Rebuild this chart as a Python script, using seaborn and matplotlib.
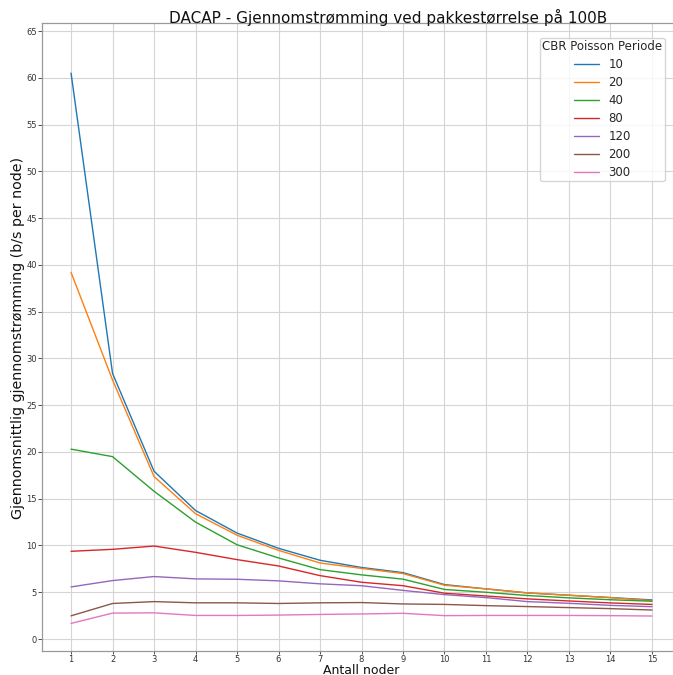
import matplotlib
matplotlib.use("Agg")
import matplotlib.pyplot as plt
import seaborn as sns
import pandas as pd

nodes = list(range(1, 16))
periods = ["10", "20", "40", "80", "120", "200", "300"]
p10 = [60.5, 28.4, 17.94, 13.74, 11.33, 9.70, 8.42, 7.65, 7.10, 5.82, 5.36, 4.93, 4.68, 4.43, 4.18]
p20 = [39.2, 27.7, 17.37, 13.40, 11.10, 9.48, 8.13, 7.55, 7.00, 5.75, 5.36, 4.93, 4.68, 4.43, 4.10]
p40 = [20.3, 19.5, 15.80, 12.50, 10.08, 8.67, 7.42, 6.86, 6.40, 5.30, 5.00, 4.65, 4.40, 4.20, 4.04]
p80 = [9.38, 9.59, 9.94, 9.27, 8.49, 7.81, 6.78, 6.07, 5.70, 4.90, 4.60, 4.29, 4.07, 3.86, 3.70]
p120 = [5.57, 6.25, 6.68, 6.43, 6.39, 6.22, 5.90, 5.70, 5.20, 4.75, 4.43, 4.00, 3.82, 3.60, 3.46]
p200 = [2.48, 3.80, 4.00, 3.87, 3.87, 3.80, 3.87, 3.90, 3.75, 3.70, 3.57, 3.47, 3.36, 3.25, 3.10]
p300 = [1.67, 2.77, 2.80, 2.52, 2.52, 2.56, 2.63, 2.68, 2.75, 2.50, 2.52, 2.52, 2.52, 2.50, 2.46]
series = [p10, p20, p40, p80, p120, p200, p300]

title = "DACAP - Gjennomstrømming ved pakkestørrelse på 100B"
xlabel = "Antall noder"
ylabel = "Gjennomsnittlig gjennomstrømming (b/s per node)"
legend_title = "CBR Poisson Periode"

rows = []
for p, vals in zip(periods, series):
    for n, v in zip(nodes, vals):
        rows.append({"nodes": n, "period": p, "value": v})
df = pd.DataFrame(rows)

sns.set_theme(style="whitegrid")
plt.rcParams["font.family"] = ["DejaVu Sans"]

W, H = 673, 675
fig = plt.figure(figsize=(W / 100, H / 100), dpi=100)
ax = fig.add_axes([42 / W, 1 - 651 / H, (681 - 42) / W, (651 - 23) / H])

sns.lineplot(data=df, x="nodes", y="value", hue="period", hue_order=periods,
             palette="tab10", linewidth=1.0, ax=ax)

ax.set_xlim(0.3, 15.7)
ax.set_ylim(-1.28, 65.86)
ax.set_xticks(nodes)
ax.set_yticks(range(0, 66, 5))
ax.tick_params(axis="both", labelsize=6, colors="#333333", length=2.2, width=0.6,
               pad=0.6, bottom=True, left=True)
ax.tick_params(axis="y", length=3, pad=0.8)
ax.grid(True, color="#d5d5d5", linewidth=0.8)
ax.spines["right"].set_visible(False)
for s in ["left", "bottom", "top"]:
    ax.spines[s].set_color("#999999")
    ax.spines[s].set_linewidth(0.9)

fig.text(388 / W, 1 - 17 / H, title, fontsize=11, color="#111111",
         ha="center", va="center")
ax.set_xlabel(xlabel, fontsize=9, color="#111111")
ax.xaxis.set_label_coords(361 / W, 1 - 673.5 / H, transform=fig.transFigure)
ax.xaxis.label.set_va("baseline")
ax.set_ylabel(ylabel, fontsize=10.3, color="#111111")
ax.yaxis.set_label_coords(18 / W, 0.5, transform=fig.transFigure)
ax.yaxis.label.set_va("center")

leg = ax.legend(title=legend_title, fontsize=8.5, title_fontsize=8.5,
                loc="upper left", bbox_to_anchor=(540 / W, 1 - 38 / H),
                bbox_transform=fig.transFigure, borderaxespad=0,
                frameon=True, handlelength=2.1, labelspacing=0.42,
                borderpad=0.2)
leg.get_frame().set_edgecolor("#cccccc")

fig.savefig("out.png", dpi=100)
